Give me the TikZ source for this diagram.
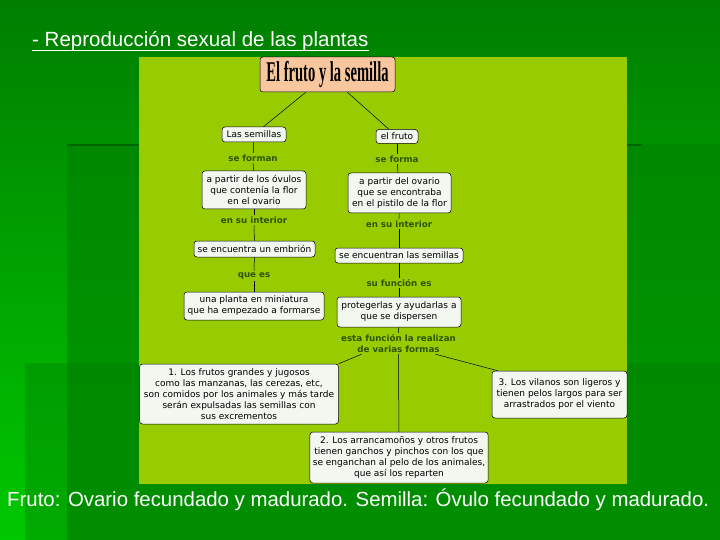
\documentclass[tikz,border=0pt]{standalone}
\usepackage{fontspec}
\usepackage{graphicx}
\setmainfont{Liberation Sans}
\newfontfamily\boxfont{DejaVu Sans}
\newfontfamily\headfont{Liberation Serif}
\definecolor{panel}{RGB}{153,204,0}
\definecolor{boxfill}{RGB}{242,247,240}
\definecolor{peach}{RGB}{249,199,158}
\definecolor{lblcol}{RGB}{45,85,0}
\definecolor{bgtop}{RGB}{0,126,0}
\definecolor{bgbot}{RGB}{0,200,0}
\definecolor{bgmid}{RGB}{0,136,0}
\definecolor{bgmidb}{RGB}{0,155,0}
\definecolor{edgegreen}{RGB}{0,100,0}
\definecolor{overgreen}{RGB}{0,120,0}
\begin{document}
\begin{tikzpicture}[x=1pt,y=-1pt,
  cbox/.style={draw=black, line width=0.5pt, fill=boxfill, rounded corners=3pt,
    align=center, font=\boxfont\fontsize{9}{11}\selectfont, inner xsep=3pt, inner ysep=2pt},
  lbl/.style={font=\boxfont\bfseries\fontsize{8.7}{11}\selectfont, text=lblcol, align=center, inner sep=1.5pt},
  conn/.style={draw=black, line width=0.5pt},
  sz/.style 2 args={minimum width=#1, minimum height=#2}]
\useasboundingbox (0,0) rectangle (720,540);
% background
\shade[top color=bgtop, bottom color=bgbot] (0,0) rectangle (720,540);
\shade[top color=bgmid, bottom color=bgmidb] (67,145) rectangle (720,540);
\draw[edgegreen, line width=2pt] (67,145) -- (642,145);
\fill[overgreen, opacity=0.35] (25,363) rectangle (720,540);
% panel
\fill[panel] (139,57) rectangle (627,484);
% heading
\node[anchor=base west, text=white, font=\fontsize{20.5}{24}\selectfont, inner sep=0pt] (head) at (32,47) {- Reproducción sexual de las plantas};
\draw[white, line width=1.2pt] ([yshift=-3.5pt]head.base west) -- ([yshift=-3.5pt]head.base east);
% nodes
\node[cbox, fill=peach, sz={135pt}{35pt}, inner sep=0pt] (title) at (327.5,74.5)
  {\headfont\bfseries\scalebox{0.56}[1.1]{\fontsize{26}{28}\selectfont El fruto y la semilla}};
\node[cbox, sz={64pt}{15pt}] (sem) at (254,134.5) {Las semillas};
\node[cbox, sz={42pt}{14pt}] (fru) at (397,136.5) {el fruto};
\node[lbl] (l1) at (253,158) {se forman};
\node[lbl] (r1) at (397,159) {se forma};
\node[cbox, sz={104pt}{38pt}] (ovu) at (254,190) {a partir de los óvulos\\que contenía la flor\\en el ovario};
\node[cbox, sz={103pt}{40pt}] (ova) at (399.5,193) {a partir del ovario\\que se encontraba\\en el pistilo de la flor};
\node[lbl] (l2) at (254,220) {en su interior};
\node[lbl] (r2) at (399,224) {en su interior};
\node[cbox, sz={121pt}{16pt}] (emb) at (254.5,249) {se encuentra un embrión};
\node[cbox, sz={128pt}{15pt}] (sms) at (399,255.5) {se encuentran las semillas};
\node[lbl] (l3) at (254,276) {que es};
\node[lbl] (r3) at (399,283) {su función es};
\node[cbox, sz={140pt}{28pt}] (min) at (254,306) {una planta en miniatura\\que ha empezado a formarse};
\node[cbox, sz={124pt}{30pt}] (pro) at (399,312) {protegerlas y ayudarlas a\\que se dispersen};
\node[lbl] (r4) at (398.5,343.5) {esta función la realizan\\de varias formas};
\node[cbox, sz={199pt}{60pt}] (b1) at (239,394) {1. Los frutos grandes y jugosos\\como las manzanas, las cerezas, etc,\\son comidos por los animales y más tarde\\serán expulsadas las semillas con\\sus excrementos};
\node[cbox, sz={176pt}{51pt}] (b2) at (399,457.5) {2. Los arrancamoños y otros frutos\\tienen ganchos y pinchos con los que\\se enganchan al pelo de los animales,\\que así los reparten};
\node[cbox, sz={135pt}{47pt}] (b3) at (559.5,394.5) {3. Los vilanos son ligeros y\\tienen pelos largos para ser\\arrastrados por el viento};
% connectors
\draw[conn] (title) -- (sem);
\draw[conn] (title) -- (fru);
\draw[conn] (sem) -- (l1);
\draw[conn] (l1) -- (ovu);
\draw[conn] (ovu) -- (l2);
\draw[conn] (l2) -- (emb);
\draw[conn] (emb) -- (l3);
\draw[conn] (l3) -- (min);
\draw[conn] (fru) -- (r1);
\draw[conn] (r1) -- (ova);
\draw[conn] (ova) -- (r2);
\draw[conn] (r2) -- (sms);
\draw[conn] (sms) -- (r3);
\draw[conn] (r3) -- (pro);
\draw[conn] (pro) -- (r4);
\coordinate (r4a) at ([xshift=22pt]r4.south west);
\coordinate (r4b) at ([xshift=-22pt]r4.south east);
\coordinate (b3a) at ([xshift=6pt]b3.north west);
\draw[conn] (r4a) -- (b1.north east);
\draw[conn] (r4) -- (b2);
\draw[conn] (r4b) -- (b3a);
% bottom text
\node[anchor=west, text=white, font=\fontsize{20.4}{24}\selectfont, inner sep=0pt] (foot) at (7,500)
  {Fruto: Ovario fecundado y madurado. Semilla: Óvulo fecundado y madurado.};
\end{tikzpicture}
\end{document}
